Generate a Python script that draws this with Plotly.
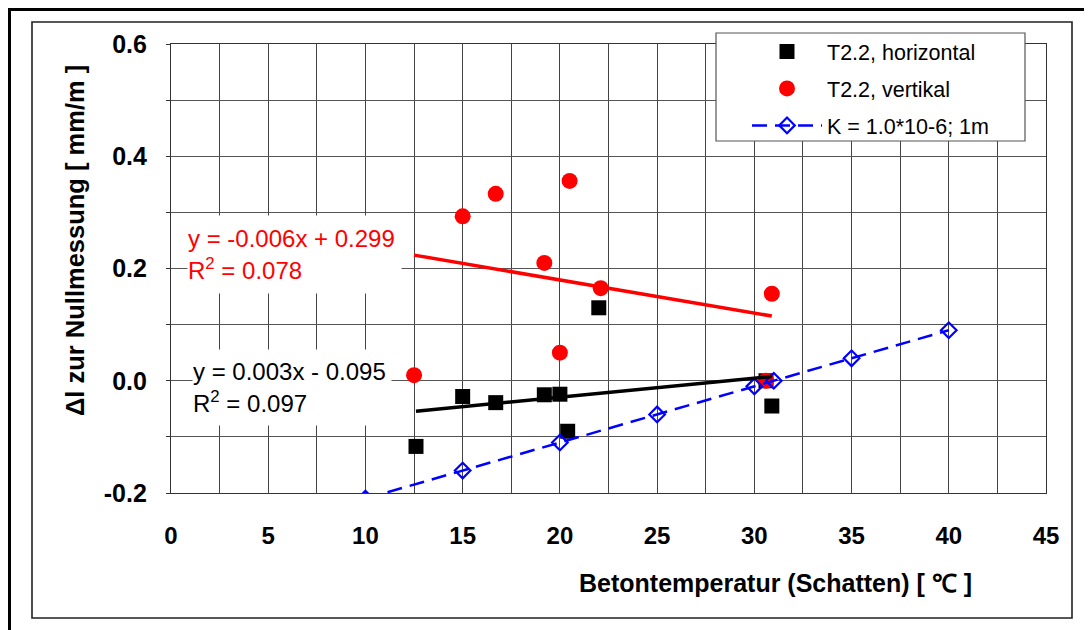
import numpy as np
import plotly.graph_objects as go

# ---------------- data ----------------
horiz_x = [12.6, 15.0, 16.7, 19.2, 20.0, 20.4, 22.0, 30.6, 30.9]
horiz_y = [-0.117, -0.028, -0.039, -0.025, -0.024, -0.090, 0.130, 0.000, -0.045]

vert_x = [12.5, 15.0, 16.7, 19.2, 20.0, 20.5, 22.1, 30.6, 30.9]
vert_y = [0.010, 0.293, 0.333, 0.210, 0.050, 0.356, 0.165, 0.000, 0.155]

k_x = [10, 15, 20, 25, 30, 31, 35, 40]
k_y = [-0.21, -0.16, -0.11, -0.06, -0.01, 0.00, 0.04, 0.09]

x_ticks = [0, 5, 10, 15, 20, 25, 30, 35, 40, 45]
y_ticks = [-0.2, 0.0, 0.2, 0.4, 0.6]
y_tick_text = ["-0.2", "0.0", "0.2", "0.4", "0.6"]

names = ["T2.2, horizontal", "T2.2, vertikal", "K = 1.0*10-6; 1m"]
eq_red = "y = -0.006x + 0.299<br>R<sup>2</sup> = 0.078"
eq_black = "y = 0.003x - 0.095<br>R<sup>2</sup> = 0.097"
x_title = "Betontemperatur (Schatten) [ \u2103 ]"
y_title = "\u0394l zur Nullmessung [ mm/m ]"

# ---------------- layout geometry ----------------
W, H = 1092, 630
OFF = 8  # page body margin: screen pixel = figure pixel + OFF
# plot-area edges in screen pixels
SL, SR, ST, SB = 171, 1046, 44, 493
L, R, T, B = SL - OFF, SR - OFF, ST - OFF, SB - OFF
FONT = "Liberation Sans, Arial, sans-serif"


def px(xs):
    return (xs - SL) / (SR - SL)


def py(ys):
    return (SB - ys) / (SB - ST)


def trend(xs, ys):
    m, c = np.polyfit(xs, ys, 1)
    xx = np.array([min(xs), max(xs)])
    return xx, m * xx + c


fig = go.Figure()

fig.add_trace(go.Scatter(
    x=horiz_x, y=horiz_y, mode="markers", name=names[0], legendgroup="a",
    marker=dict(symbol="square", size=15, color="black", line=dict(width=0)),
))
fig.add_trace(go.Scatter(
    x=vert_x, y=vert_y, mode="markers", name=names[1], legendgroup="b",
    marker=dict(symbol="circle", size=16, color="#ff0000", line=dict(width=0)),
))
fig.add_trace(go.Scatter(
    x=k_x, y=k_y, mode="lines+markers", name=names[2], legendgroup="c",
    line=dict(color="#0000ff", width=2.5, dash="15px,8px"),
    marker=dict(symbol="diamond-open", size=12, color="#0000ff", line=dict(width=2.2, color="#0000ff")),
))

tx, ty = trend(vert_x, vert_y)
fig.add_trace(go.Scatter(x=tx, y=ty, mode="lines", showlegend=False, legendgroup="b",
                         line=dict(color="#ff0000", width=3.5), hoverinfo="skip"))
tx, ty = trend(horiz_x, horiz_y)
fig.add_trace(go.Scatter(x=tx, y=ty, mode="lines", showlegend=False, legendgroup="a",
                         line=dict(color="black", width=3.5), hoverinfo="skip"))

shapes = [
    # outer page frame
    dict(type="rect", xref="paper", yref="paper", x0=px(9.5), x1=px(1130), y0=py(660), y1=py(9.5),
         line=dict(color="black", width=3), layer="below"),
    # inner chart frame
    dict(type="rect", xref="paper", yref="paper", x0=px(32), x1=px(1072), y0=py(618), y1=py(22),
         line=dict(color="#222222", width=1.6), layer="below"),
    # legend box
    dict(type="rect", xref="paper", yref="paper", x0=px(716), x1=px(1025), y0=py(141), y1=py(33),
         line=dict(color="#555555", width=1.2), fillcolor="white", layer="above"),
]

annotations = [
    dict(text=eq_red, xref="paper", yref="paper", x=px(187), y=py(254), xanchor="left", yanchor="middle",
         showarrow=False, align="left", font=dict(family=FONT, size=24, color="#ff0000"),
         bgcolor="white", width=213, height=77, borderpad=0),
    dict(text=eq_black, xref="paper", yref="paper", x=px(192), y=py(387), xanchor="left", yanchor="middle",
         showarrow=False, align="left", font=dict(family=FONT, size=24, color="black"),
         bgcolor="white", width=198, height=75, borderpad=0),
    dict(text=x_title, xref="paper", yref="paper", x=px(775), y=py(583), xanchor="center", yanchor="middle",
         showarrow=False, font=dict(family=FONT, size=25, color="black", weight="bold")),
    dict(text=y_title, xref="paper", yref="paper", x=px(75), y=py(241), xanchor="center", yanchor="middle",
         textangle=-90, showarrow=False, font=dict(family=FONT, size=25.5, color="black", weight="bold")),
]

fig.update_layout(
    width=W, height=H,
    margin=dict(l=L, r=W - R, t=T, b=H - B, pad=0),
    paper_bgcolor="white", plot_bgcolor="white",
    font=dict(family=FONT, color="black"),
    showlegend=True,
    legend=dict(x=px(747), y=py(31), xanchor="left", yanchor="top",
                bgcolor="rgba(0,0,0,0)", borderwidth=0,
                font=dict(family=FONT, size=21.5, color="black"),
                itemwidth=70, tracegroupgap=6, traceorder="grouped"),
    shapes=shapes,
    annotations=annotations,
    xaxis=dict(range=[0, 45], tickvals=x_ticks, ticktext=[str(v) for v in x_ticks],
               showgrid=True, gridcolor="#444444", gridwidth=1,
               minor=dict(dtick=2.5, tick0=0, showgrid=True, gridcolor="#444444", gridwidth=1),
               showline=True, linecolor="#333333", linewidth=1.2, mirror=True,
               zeroline=False, ticks="", ticklabelstandoff=21,
               tickfont=dict(family=FONT, size=24, color="black", weight="bold")),
    yaxis=dict(range=[-0.2, 0.6], tickvals=y_ticks, ticktext=y_tick_text,
               showgrid=True, gridcolor="#555555", gridwidth=1.3,
               minor=dict(dtick=0.1, tick0=0, showgrid=True, gridcolor="#555555", gridwidth=1.3,
                          ticks="outside", ticklen=4, tickcolor="#333333"),
               showline=True, linecolor="#333333", linewidth=1.2, mirror=True,
               zeroline=False, ticks="outside", ticklen=4, tickcolor="#333333", ticklabelstandoff=14,
               tickfont=dict(family=FONT, size=25, color="black", weight="bold")),
)

fig.write_html("out.html")
